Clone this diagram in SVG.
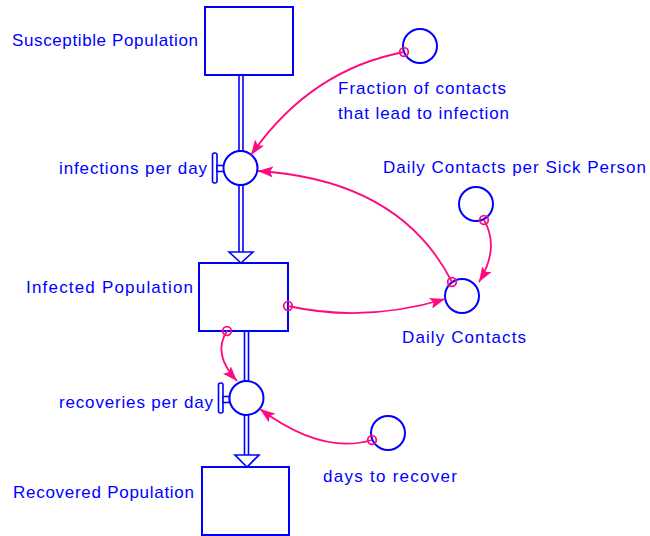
<svg xmlns="http://www.w3.org/2000/svg" width="650" height="536" viewBox="0 0 650 536">
  <style>
    .stock { fill: #ffffff; stroke: #0000ff; stroke-width: 2; }
    .pipe { stroke: #0000ff; stroke-width: 1.6; fill: none; }
    .pipehead { fill: #ffffff; stroke: #0000ff; stroke-width: 1.6; stroke-linejoin: miter; }
    .aux { fill: #ffffff; stroke: #0000ff; stroke-width: 2; }
    .valve { fill: #ffffff; stroke: #0000ff; stroke-width: 1.6; }
    .link { fill: none; stroke: #ff0a7f; stroke-width: 1.8; marker-end: url(#arrow); }
    .tail { fill: none; stroke: #ff0a7f; stroke-width: 1.8; }
    text { font-family: "Liberation Sans", Arial, sans-serif; font-size: 17px; fill: #0000ff; }
  </style>
  <defs>
    <marker id="arrow" markerUnits="userSpaceOnUse" markerWidth="15" markerHeight="11" viewBox="0 0 15 11" refX="15" refY="5.5" orient="auto">
      <path d="M0,0 L15,5.5 L0,11 L3,5.5 z" fill="#ff0a7f"/>
    </marker>
  </defs>

  <rect width="650" height="536" fill="#ffffff"/>

  <!-- stocks -->
  <g id="susceptible-population">
    <rect class="stock" x="205" y="7" width="88" height="68"/>
    <text x="12" y="46" textLength="186">Susceptible Population</text>
  </g>
  <g id="infected-population">
    <rect class="stock" x="199" y="263" width="89" height="68"/>
    <text x="26" y="293" textLength="167">Infected Population</text>
  </g>
  <g id="recovered-population">
    <rect class="stock" x="202" y="467" width="87" height="68"/>
    <text x="13" y="498" textLength="181">Recovered Population</text>
  </g>

  <!-- flow valves -->
  <g id="infections-per-day">
    <rect class="valve" x="212.5" y="153" width="4.5" height="30" rx="2"/>
    <rect class="valve" x="217" y="165.5" width="7" height="6"/>
    <circle class="aux" cx="240.5" cy="168" r="17"/>
    <text x="59" y="174" textLength="148">infections per day</text>
  </g>
  <g id="recoveries-per-day">
    <rect class="valve" x="218.5" y="383" width="4.5" height="30" rx="2"/>
    <rect class="valve" x="223" y="396.5" width="6.5" height="6"/>
    <circle class="aux" cx="246.5" cy="398" r="17"/>
    <text x="59" y="408" textLength="154">recoveries per day</text>
  </g>

  <!-- auxiliaries -->
  <g id="fraction-of-contacts">
    <circle class="aux" cx="420" cy="46" r="17"/>
    <text x="338" y="94" textLength="168">Fraction of contacts</text>
    <text x="338" y="119" textLength="171">that lead to infection</text>
  </g>
  <g id="daily-contacts-per-sick-person">
    <circle class="aux" cx="476" cy="204" r="17"/>
    <text x="383" y="173" textLength="263">Daily Contacts per Sick Person</text>
  </g>
  <g id="daily-contacts">
    <circle class="aux" cx="462" cy="296" r="17"/>
    <text x="402" y="343" textLength="124">Daily Contacts</text>
  </g>
  <g id="days-to-recover">
    <circle class="aux" cx="388" cy="433" r="17"/>
    <text x="323" y="482" textLength="134">days to recover</text>
  </g>

  <!-- connectors: flow pipes and information links -->
  <g id="connectors">
    <!-- infection flow: Susceptible -> Infected -->
    <g id="flow-infections">
      <line class="pipe" x1="239" y1="75" x2="239" y2="151"/>
      <line class="pipe" x1="243" y1="75" x2="243" y2="151"/>
      <line class="pipe" x1="239" y1="185" x2="239" y2="252"/>
      <line class="pipe" x1="243" y1="185" x2="243" y2="252"/>
      <path class="pipehead" d="M229,252 L253,252 L241,263 Z"/>
    </g>
    <!-- recovery flow: Infected -> Recovered -->
    <g id="flow-recoveries">
      <line class="pipe" x1="244.5" y1="331" x2="244.5" y2="381"/>
      <line class="pipe" x1="248.5" y1="331" x2="248.5" y2="381"/>
      <line class="pipe" x1="244.5" y1="415" x2="244.5" y2="455"/>
      <line class="pipe" x1="248.5" y1="415" x2="248.5" y2="455"/>
      <path class="pipehead" d="M235,455 L259,455 L247,467 Z"/>
    </g>

    <!-- information links -->
    <path class="link" d="M404,52 Q310,70 251,155"/>
    <circle class="tail" cx="404" cy="52" r="4.3"/>

    <path class="link" d="M452,282 Q400,180 258,171"/>
    <circle class="tail" cx="452" cy="282" r="4.3"/>

    <path class="link" d="M484,220 Q500,248 479,282"/>
    <circle class="tail" cx="484" cy="220" r="4.3"/>

    <path class="link" d="M288,306 Q365,323 445,299"/>
    <circle class="tail" cx="288" cy="306" r="4.3"/>

    <path class="link" d="M227,331 Q212,354 237,381"/>
    <circle class="tail" cx="227" cy="331" r="4.3"/>

    <path class="link" d="M372,440 Q322,455 260,409"/>
    <circle class="tail" cx="372" cy="440" r="4.3"/>
  </g>
</svg>
